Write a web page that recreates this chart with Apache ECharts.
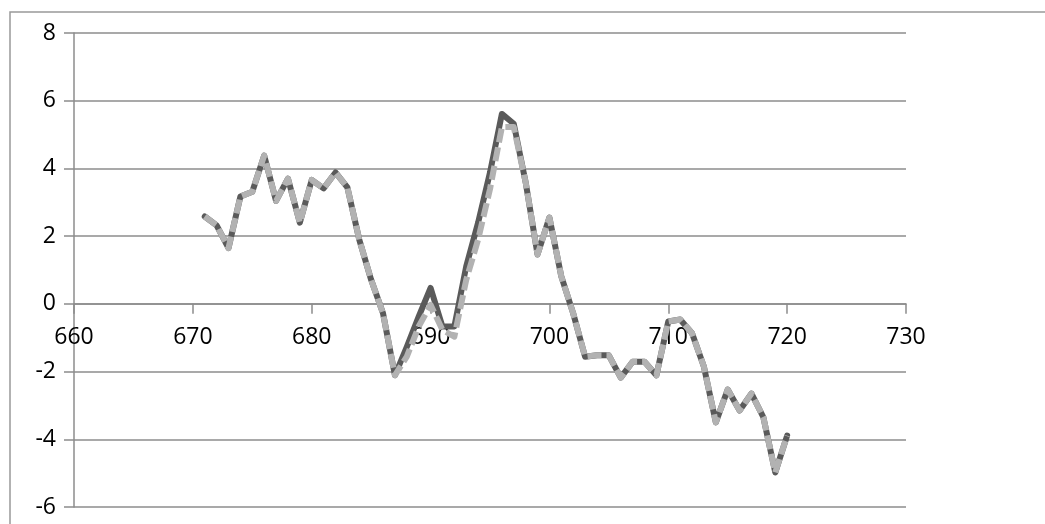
<!DOCTYPE html>
<html>
<head>
<meta charset="utf-8">
<script src="https://cdn.jsdelivr.net/npm/echarts@6/dist/echarts.min.js"></script>
<style>
  html, body { margin: 0; padding: 0; background: #fff; }
  #chart { width: 1045px; height: 524px; }
</style>
</head>
<body>
<div id="chart"></div>
<script>
// Wavelength positions (x) shared by both traces
const xValues = [671, 672, 673, 674, 675, 676, 677, 678, 679, 680,
                 681, 682, 683, 684, 685, 686, 687, 688, 689, 690,
                 691, 692, 693, 694, 695, 696, 697, 698, 699, 700,
                 701, 702, 703, 704, 705, 706, 707, 708, 709, 710,
                 711, 712, 713, 714, 715, 716, 717, 718, 719, 720];

// Solid dark trace
const seriesA = [2.58, 2.32, 1.65, 3.17, 3.31, 4.38, 3.04, 3.70, 2.40, 3.66,
                 3.41, 3.88, 3.44, 1.90, 0.71, -0.28, -2.11, -1.27, -0.38, 0.47,
                 -0.67, -0.67, 1.11, 2.40, 3.88, 5.61, 5.32, 3.59, 1.46, 2.55,
                 0.81, -0.28, -1.56, -1.52, -1.52, -2.18, -1.71, -1.71, -2.11, -0.52,
                 -0.46, -0.87, -1.86, -3.50, -2.53, -3.15, -2.65, -3.35, -4.98, -3.89];

// Dashed light trace
const seriesB = [2.58, 2.32, 1.65, 3.17, 3.31, 4.38, 3.04, 3.70, 2.40, 3.66,
                 3.41, 3.88, 3.44, 1.90, 0.71, -0.28, -2.11, -1.56, -0.67, -0.03,
                 -0.77, -0.97, 0.71, 1.90, 3.39, 5.22, 5.22, 3.59, 1.46, 2.55,
                 0.81, -0.28, -1.56, -1.52, -1.52, -2.18, -1.71, -1.71, -2.11, -0.52,
                 -0.46, -0.87, -1.86, -3.50, -2.53, -3.15, -2.65, -3.35, -4.98, -3.89];

// Axis ranges
const xMin = 660, xMax = 730, xStep = 10;
const yMin = -6, yMax = 8, yStep = 2;

const pairs = (xs, ys) => xs.map((x, i) => [x, ys[i]]);

const axisGray = '#8c8c8c';
const gridTop = 33, gridBottom = 17, chartH = 524;
// the x axis runs along y = 0: shift it up from the grid's bottom edge
const plotH = chartH - gridTop - gridBottom;
const zeroShift = plotH * (0 - yMin) / (yMax - yMin);

const chart = echarts.init(document.getElementById('chart'), null, { renderer: 'canvas' });
chart.setOption({
  backgroundColor: '#fff',
  animation: false,
  grid: { left: 74, right: 139, top: gridTop, bottom: gridBottom, containLabel: false },
  graphic: [{
    type: 'rect',
    shape: { x: 10, y: 12, width: 1100, height: 600 },
    style: { fill: 'none', stroke: '#999', lineWidth: 1.5 },
    silent: true,
    z: -1
  }],
  xAxis: {
    type: 'value',
    position: 'bottom',
    offset: -zeroShift,
    min: xMin, max: xMax, interval: xStep,
    axisLine: { show: true, onZero: false, lineStyle: { color: axisGray, width: 1.5 } },
    axisTick: { show: true, inside: false, length: 10, lineStyle: { color: axisGray, width: 1.5 } },
    axisLabel: { margin: 22, fontFamily: 'Open Sans', fontSize: 23, color: '#000' },
    splitLine: { show: false }
  },
  yAxis: {
    type: 'value',
    min: yMin, max: yMax, interval: yStep,
    axisLine: { show: true, onZero: false, lineStyle: { color: axisGray, width: 1.5 } },
    axisTick: { show: true, inside: false, length: 10, lineStyle: { color: axisGray, width: 1.5 } },
    axisLabel: { margin: 18, fontFamily: 'Open Sans', fontSize: 23, color: '#000' },
    splitLine: { show: true, lineStyle: { color: axisGray, width: 1.5 } }
  },
  series: [
    {
      name: 'A', type: 'line', data: pairs(xValues, seriesA),
      showSymbol: false, symbol: 'none',
      lineStyle: { color: '#5a5a5a', width: 6, join: 'round', cap: 'round' },
      z: 2
    },
    {
      name: 'B', type: 'line', data: pairs(xValues, seriesB),
      showSymbol: false, symbol: 'none',
      lineStyle: { color: '#b2b2b2', width: 6, type: [14, 5], join: 'round' },
      z: 3
    }
  ]
});
</script>
</body>
</html>
